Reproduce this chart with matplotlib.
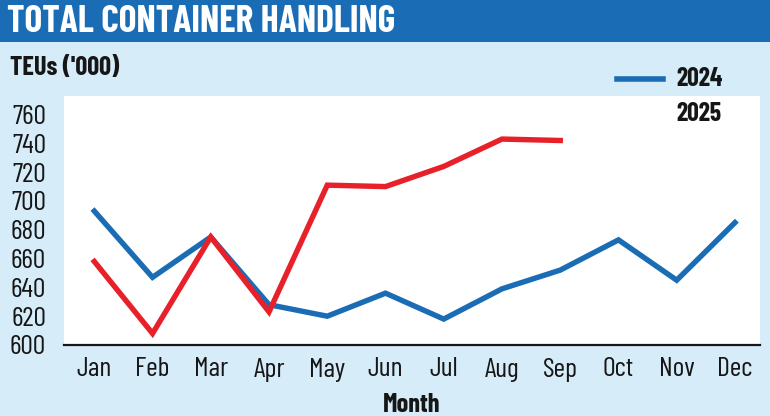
import matplotlib
matplotlib.use("Agg")
import matplotlib.pyplot as plt
from matplotlib.patches import Rectangle
from matplotlib.lines import Line2D

plt.rcParams['font.family'] = ['Barlow Condensed', 'Roboto Condensed', 'Archivo Narrow', 'DejaVu Sans']

months = ['Jan', 'Feb', 'Mar', 'Apr', 'May', 'Jun', 'Jul', 'Aug', 'Sep', 'Oct', 'Nov', 'Dec']
teu_2024 = [693, 647, 675, 628, 620, 636, 618, 639, 652, 673, 645, 685]
teu_2025 = [658, 608, 675, 623, 711, 710, 724, 743, 742]
yticks = [600, 620, 640, 660, 680, 700, 720, 740, 760]

blue = '#1a6db5'
red = '#e8202a'
bg = '#d6ecf9'
ink = '#161616'

W, H = 770, 416
fig = plt.figure(figsize=(W / 100, H / 100), dpi=100, facecolor=bg)

# title banner
fig.patches.append(Rectangle((0, (H - 42) / H), 1, 42 / H, transform=fig.transFigure,
                             facecolor=blue, edgecolor='none', zorder=0))
fig.text(7 / W, 1 - 22 / H, 'TOTAL CONTAINER HANDLING', color='white', fontsize=27,
         fontweight='bold', va='center', ha='left')
fig.text(10 / W, 1 - 68 / H, "TEUs ('000)", color=ink, fontsize=19,
         fontweight='bold', va='center', ha='left')

ax = fig.add_axes([64 / W, 71 / H, (760 - 64) / W, (345 - 96) / H])
ax.set_facecolor('white')
x = list(range(len(months)))
ax.plot(x, teu_2024, color=blue, lw=3.9, solid_joinstyle='miter', zorder=3)
ax.plot(x[:len(teu_2025)], teu_2025, color=red, lw=3.9, solid_joinstyle='miter', zorder=4)

ax.set_xlim(-0.52, 11.43)
ax.set_ylim(600, 772.9)
ax.set_xticks(x)
ax.set_xticklabels(months, fontsize=20, color=ink)
ax.set_yticks(yticks)
ax.set_yticklabels([str(v) for v in yticks], fontsize=20, color=ink)
ax.tick_params(length=0)
ax.tick_params(axis='y', pad=13)
ax.tick_params(axis='x', pad=9)
for s in ['top', 'right', 'left']:
    ax.spines[s].set_visible(False)
ax.spines['bottom'].set_linewidth(1.6)
ax.spines['bottom'].set_color(ink)
ax.set_xlabel('Month', fontsize=19, fontweight='bold', color=ink, labelpad=8)

# legend
fig.add_artist(Line2D([617 / W, 663 / W], [1 - 79 / H, 1 - 79 / H], color=blue, lw=4,
                      transform=fig.transFigure))
fig.text(676 / W, 1 - 79 / H, '2024', fontsize=18.5, fontweight='bold', color=ink,
         va='center', ha='left')
fig.text(676 / W, 1 - 114 / H, '2025', fontsize=18.5, fontweight='bold', color=ink,
         va='center', ha='left', zorder=5)

fig.savefig('out.png', dpi=100, facecolor=bg)
